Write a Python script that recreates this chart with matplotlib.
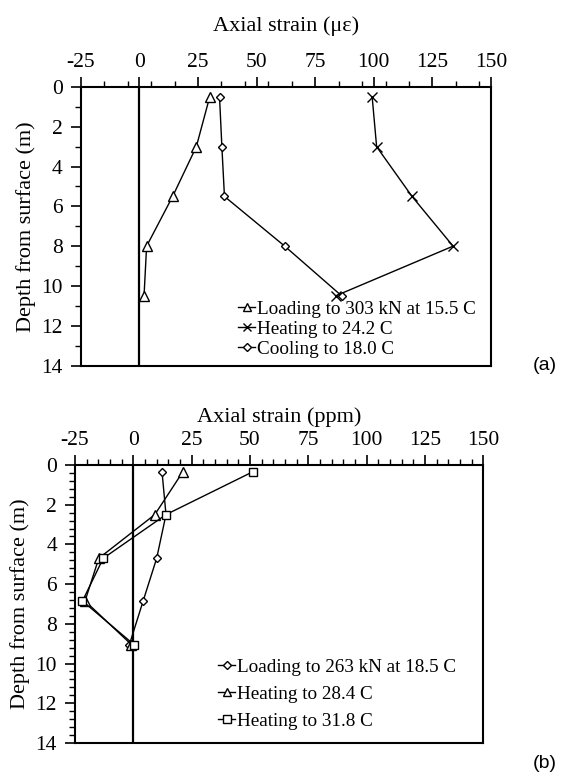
import numpy as np
import matplotlib
matplotlib.use("Agg")
import matplotlib.pyplot as plt
from matplotlib.ticker import FixedLocator, MultipleLocator

plt.rcParams['font.family'] = ['Liberation Serif', 'DejaVu Serif']
plt.rcParams['axes.unicode_minus'] = False

# panel (a): axial strain (micro-strain) vs depth
depth_a = [0.5, 3.0, 5.5, 8.0, 10.5]
load_303 = [30.0, 24.3, 14.2, 3.1, 2.0]
heat_242 = [99.3, 101.2, 116.3, 133.8, 83.7]
cool_180 = [34.2, 35.2, 36.3, 62.0, 86.3]
labels_a = ["Loading to 303 kN at 15.5 C", "Heating to 24.2 C", "Cooling to 18.0 C"]

# panel (b): axial strain (ppm) vs depth
depth_b = [0.35, 2.5, 4.7, 6.85, 9.05]
load_263 = [12.3, 14.0, 10.0, 4.2, -1.7]
heat_284 = [21.2, 9.2, -14.8, -20.7, -0.8]
heat_318 = [51.1, 14.0, -12.9, -21.8, 0.3]
labels_b = ["Loading to 263 kN at 18.5 C", "Heating to 28.4 C", "Heating to 31.8 C"]

xticks = [-25, 0, 25, 50, 75, 100, 125, 150]

fig = plt.figure(figsize=(5.61, 7.77), dpi=100)
ax_a = fig.add_axes([0.1439, 0.5296, 0.7314, 0.3584])
ax_b = fig.add_axes([0.1337, 0.0438, 0.7278, 0.3578])


def style_axis(ax, title, xminor, yminor, titlepad):
    ax.set_xlim(-25, 150)
    ax.set_ylim(14, 0)
    ax.xaxis.set_ticks_position('top')
    ax.xaxis.set_label_position('top')
    ax.set_xticks(xticks)
    ax.xaxis.set_minor_locator(xminor)
    ax.yaxis.set_major_locator(MultipleLocator(2))
    ax.yaxis.set_minor_locator(yminor)
    ax.tick_params(which='major', direction='out', length=7, width=1.2,
                   labelsize=15.5, colors='black')
    ax.tick_params(axis='x', which='major', pad=3.5)
    ax.tick_params(axis='y', which='major', pad=6)
    ax.tick_params(which='minor', direction='out', length=4.5, width=1.0)
    for s in ax.spines.values():
        s.set_linewidth(1.5)
    ax.set_xlabel(title, fontsize=16, labelpad=titlepad)
    ax.set_ylabel("Depth from surface (m)", fontsize=16, labelpad=4)
    ax.axvline(0, color='black', lw=1.6, zorder=1)


style_axis(ax_a, "Axial strain (\u03bc\u03b5)",
           FixedLocator(np.arange(-25, 151, 10)), MultipleLocator(1), 16)
style_axis(ax_b, "Axial strain (ppm)",
           MultipleLocator(5), MultipleLocator(0.4), 7)

line_kw = dict(color='black', lw=1.0, mfc='white', mec='black', mew=1.0)

ax_a.plot(load_303, depth_a, marker='^', ms=7, label=labels_a[0], **line_kw)
ax_a.plot(heat_242, depth_a, marker='x', ms=6.5, label=labels_a[1], **line_kw)
ax_a.plot(cool_180, depth_a, marker='D', ms=4.5, label=labels_a[2], **line_kw)

ax_b.plot(load_263, depth_b, marker='D', ms=4.5, label=labels_b[0], **line_kw)
ax_b.plot(heat_284, depth_b, marker='^', ms=7, label=labels_b[1], **line_kw)
ax_b.plot(heat_318, depth_b, marker='s', ms=6, label=labels_b[2], **line_kw)

ax_a.legend(loc='upper left', bbox_to_anchor=(0.383, 0.234), frameon=False,
            fontsize=13.8, handlelength=0.9, handletextpad=0.1,
            labelspacing=0.14, borderpad=0, borderaxespad=0,
            markerscale=0.9)
ax_b.legend(loc='upper left', bbox_to_anchor=(0.35, 0.304), frameon=False,
            fontsize=13.8, handlelength=0.9, handletextpad=0.1,
            labelspacing=0.5, borderpad=0, borderaxespad=0,
            markerscale=0.9)

fig.text(545 / 561, 1 - 366 / 777, "(a)", family='Liberation Sans',
         fontsize=14, ha='center', va='center')
fig.text(545 / 561, 1 - 763 / 777, "(b)", family='Liberation Sans',
         fontsize=14, ha='center', va='center')

fig.savefig("out.png", dpi=100)
